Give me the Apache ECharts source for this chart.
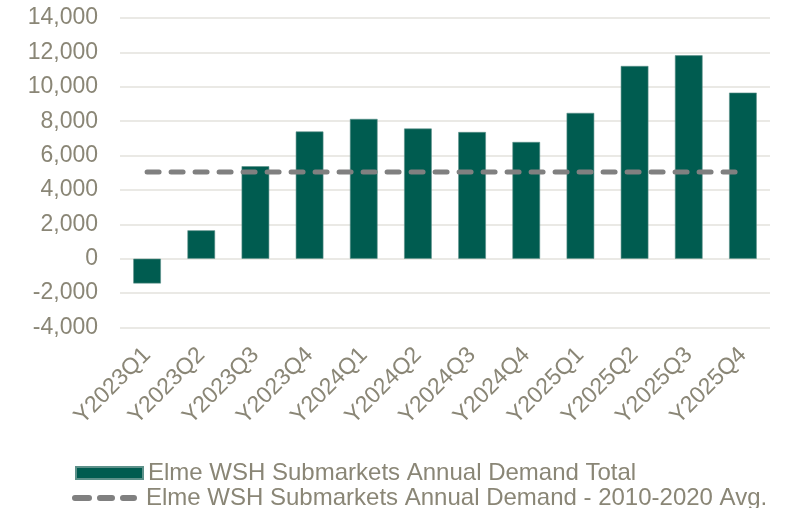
<!DOCTYPE html>
<html>
<head>
<meta charset="utf-8">
<script src="https://cdn.jsdelivr.net/npm/echarts@6/dist/echarts.min.js"></script>
<style>
  html, body { margin: 0; padding: 0; background: #fff; }
  #chart { width: 785px; height: 508px; }
</style>
</head>
<body>
<div id="chart"></div>
<script>
// ======================
// DATA
// ======================
const quarters = ["Y2023Q1", "Y2023Q2", "Y2023Q3", "Y2023Q4", "Y2024Q1", "Y2024Q2",
                  "Y2024Q3", "Y2024Q4", "Y2025Q1", "Y2025Q2", "Y2025Q3", "Y2025Q4"];
const demandTotal = [-1440, 1650, 5380, 7400, 8130, 7570, 7370, 6790, 8480, 11210, 11830, 9660];
const demandAvg = [5050, 5050, 5050, 5050, 5050, 5050, 5050, 5050, 5050, 5050, 5050, 5050];
const seriesNames = [
    "Elme WSH Submarkets Annual Demand Total",
    "Elme WSH Submarkets Annual Demand - 2010-2020 Avg."
];

// ======================
// STYLE
// ======================
const TEXT = "#8a8676";
const GREEN = "#005c50";
const DASH = "#808080";
const FONT = "'Liberation Sans', Arial, sans-serif";
// three rounded dashes for the avg legend icon
const DASH_ICON = "path://M3,0H17A3,3 0 0 1 17,6H3A3,3 0 0 1 3,0Z" +
    "M28,0H40A3,3 0 0 1 40,6H28A3,3 0 0 1 28,0Z" +
    "M51,0H62A3,3 0 0 1 62,6H51A3,3 0 0 1 51,0Z";

const chart = echarts.init(document.getElementById("chart"));
chart.setOption({
    animation: false,
    backgroundColor: "#ffffff",
    textStyle: { fontFamily: FONT, color: TEXT },
    grid: { left: 120, right: 15, top: 18, bottom: 180.5 },
    legend: [
        {
            left: 70,
            top: 456,
            itemWidth: 67,
            itemHeight: 12,
            textStyle: { color: TEXT, fontSize: 24, fontFamily: FONT },
            data: [{ name: seriesNames[0], icon: "rect" }]
        },
        {
            left: 67,
            top: 481,
            itemWidth: 65,
            itemHeight: 6,
            textStyle: { color: TEXT, fontSize: 24, fontFamily: FONT, padding: [0, 0, 0, 4] },
            data: [{
                name: seriesNames[1],
                icon: DASH_ICON,
                itemStyle: { color: DASH, borderWidth: 0 }
            }]
        }
    ],
    xAxis: {
        type: "category",
        data: quarters,
        axisLine: { show: false, onZero: false },
        axisTick: { show: false },
        axisLabel: {
            rotate: 45,
            margin: 24,
            interval: 0,
            color: TEXT,
            fontSize: 23,
            fontFamily: FONT
        }
    },
    yAxis: {
        type: "value",
        min: -4000,
        max: 14000,
        interval: 2000,
        axisLine: { show: false },
        axisTick: { show: false },
        axisLabel: {
            color: TEXT,
            fontSize: 23,
            margin: 22,
            fontFamily: FONT,
            formatter: v => v.toLocaleString("en-US")
        },
        splitLine: { lineStyle: { color: "#e3e2dc", width: 1.5 } }
    },
    series: [
        {
            name: seriesNames[0],
            type: "bar",
            data: demandTotal,
            barWidth: "51%",
            itemStyle: { color: GREEN, borderColor: "#5d918a", borderWidth: 0.6 }
        },
        {
            name: seriesNames[1],
            type: "line",
            data: demandAvg,
            symbol: "none",
            lineStyle: { color: DASH, width: 5, type: [12, 12], cap: "round" },
            itemStyle: { color: DASH }
        }
    ]
});
</script>
</body>
</html>
